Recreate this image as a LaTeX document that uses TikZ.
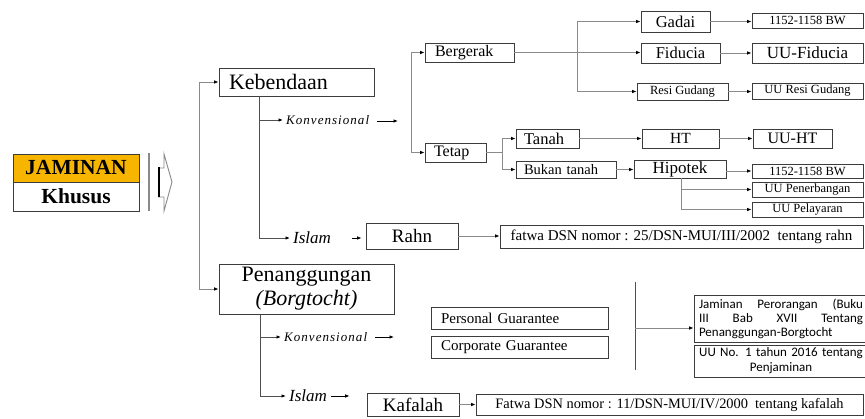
\documentclass[tikz,border=0pt]{standalone}
\usepackage{fontspec}
\setmainfont{Liberation Serif}
\newfontfamily\sansjp{Carlito}
\newfontfamily\lsfont[LetterSpace=8]{Liberation Serif}
\usetikzlibrary{arrows.meta}
\newcommand\fsz[1]{\fontsize{#1}{#1}\selectfont}
\definecolor{jamc}{HTML}{F7B500}
\definecolor{bordc}{HTML}{3C3C3C}
\definecolor{connc}{HTML}{8A8A8A}
\definecolor{dconn}{HTML}{505050}
\begin{document}
\begin{tikzpicture}[x=1pt,y=-1pt,
  box/.style={draw=bordc, line width=0.9pt, inner sep=0pt, align=center},
  conn/.style={draw=connc, line width=0.8pt},
  dk/.style={draw=dconn, line width=0.9pt},
  arr/.style={conn, -{Latex[length=4.5pt,width=3.6pt,color=black]}},
  darr/.style={dk, -{Latex[length=4.5pt,width=3.6pt,color=black]}},
  lab/.style={inner sep=3pt, anchor=west}]
\useasboundingbox (0,0) rectangle (865,419);
\fill[white] (0,0) rectangle (865,419);

% left block
\node[box, fill=jamc, minimum width=126pt, minimum height=28pt, font=\bfseries\fsz{21.5}] (jam) at (76,168) {JAMINAN};
\node[box, minimum width=126pt, minimum height=29pt, font=\bfseries\fsz{21.5}] (khu) at (76,196.5) {Khusus};

% bracket arrow symbol
\draw[connc, line width=1.2pt] (149,153) -- (149,211);
\draw[connc, line width=0.9pt] (158,168) -- (164,168) -- (164,154) -- (172,182) -- (164,211) -- (164,197) -- (158,197);
\draw[black, line width=1.8pt] (159,167.5) -- (159,197.5);

% level 1
\node[box, minimum width=155pt, minimum height=28pt, text width=135pt, align=left, font=\fsz{22}] (keb) at (296.5,82) {Kebendaan};
\node[box, minimum width=175pt, minimum height=50pt, align=center, font=\fontsize{22}{24}\selectfont] (pen) at (306.5,289) {Penanggungan\\\textit{(Borgtocht)}};

\coordinate (mv) at (199,289);
\draw[arr] (mv) |- (keb.west);
\draw[arr] (mv) -- (mv -| pen.west);

% Kebendaan branch
\node[lab, font=\lsfont\itshape\fsz{13}] (konv1) at (283,120) {Konvensional};
\node[lab, font=\itshape\fsz{17}] (isl1) at (290,238) {Islam};
\coordinate (kv) at (259,96);
\draw[darr] (kv) |- (konv1.west);
\draw[darr] (kv) |- (isl1.west);
\coordinate (k1e) at (398,121);
\draw[arr, draw=black, shorten <=5pt] (konv1.east |- k1e) -- (k1e);

% Bergerak / Tetap
\node[box, minimum width=89pt, minimum height=19pt, text width=69pt, align=left, font=\fsz{16}] (berg) at (469.5,52.5) {Bergerak};
\node[box, minimum width=61pt, minimum height=19pt, text width=43pt, align=left, font=\fsz{16}] (tet) at (455.5,152.5) {Tetap};
\coordinate (bv) at (411,52.5);
\draw[arr] (bv) -- (berg.west);
\draw[arr] (bv) |- (tet.west);

% Bergerak children
\node[box, minimum width=69pt, minimum height=21pt, font=\fsz{16.5}] (gad) at (675.5,21.5) {Gadai};
\node[box, minimum width=79pt, minimum height=20pt, font=\fsz{16.5}] (fid) at (680.5,53) {Fiducia};
\node[box, minimum width=91pt, minimum height=17pt, font=\fsz{12.5}] (resi) at (682.5,91.5) {Resi Gudang};
\coordinate (gv) at (577,52.5);
\draw[arr] (berg.east) -- (berg.east -| fid.west);
\draw[arr] (gv) |- (gad.west);
\draw[arr] (gv) |- (resi.west);

\node[box, minimum width=111pt, minimum height=15pt, font=\fsz{12.5}] (bw1) at (807.5,20.5) {1152-1158 BW};
\node[box, minimum width=111pt, minimum height=20pt, font=\fsz{17}] (uufid) at (807.5,53) {UU-Fiducia};
\node[box, minimum width=111pt, minimum height=16pt, font=\fsz{12.5}] (uuresi) at (807.5,91) {UU Resi Gudang};
\draw[arr] (gad.east) -- (gad.east -| bw1.west);
\draw[arr] (fid.east) -- (fid.east -| uufid.west);
\draw[arr] (resi.east) -- (resi.east -| uuresi.west);

% Tetap children
\node[box, minimum width=63pt, minimum height=19pt, text width=47pt, align=left, font=\fsz{16.5}] (tan) at (547.5,138.5) {Tanah};
\node[box, minimum width=100pt, minimum height=17pt, text width=84pt, align=left, font=\fsz{14.5}] (buk) at (566,169.5) {Bukan tanah};
\coordinate (tv) at (502,152.5);
\draw[conn] (tet.east) -- (tv);
\draw[arr] (tv) |- (tan.west);
\draw[arr] (tv) |- (buk.west);

\node[box, minimum width=77pt, minimum height=19pt, font=\fsz{15.5}] (ht) at (680.5,138.5) {HT};
\node[box, minimum width=79pt, minimum height=19pt, font=\fsz{16}] (uuht) at (792.5,138.5) {UU-HT};
\draw[arr] (tan.east) -- (ht.west);
\draw[arr] (ht.east) -- (uuht.west);

\node[box, minimum width=92pt, minimum height=18pt, font=\fsz{17}] (hip) at (680,169) {Hipotek};
\draw[arr] (buk.east) -- (buk.east -| hip.west);
\node[box, minimum width=111pt, minimum height=14pt, font=\fsz{12.5}] (bw2) at (807.5,171) {1152-1158 BW};
\node[box, minimum width=111pt, minimum height=15pt, font=\fsz{12.5}] (uupen) at (807.5,189.5) {UU Penerbangan};
\node[box, minimum width=111pt, minimum height=15pt, font=\fsz{12.5}] (uupel) at (807.5,209.5) {UU Pelayaran};
\draw[arr] (hip.east |- bw2) -- (bw2.west);
\coordinate (hv) at (681,178);
\draw[arr] (hv) |- (uupen.west);
\draw[arr] (hv) |- (uupel.west);

% Rahn
\node[box, minimum width=92pt, minimum height=26pt, font=\fsz{19}] (rahn) at (412,236) {Rahn};
\node[box, minimum width=363pt, minimum height=23pt, font=\fsz{15}] (fat1) at (681.5,236.5) {fatwa DSN nomor : 25/DSN-MUI/III/2002\ \ tentang rahn};
\draw[arr, draw=black, shorten <=18pt, shorten >=4pt] (isl1.east) -- (isl1.east -| rahn.west);
\draw[arr] (rahn.east) -- (rahn.east -| fat1.west);

% Penanggungan branch
\node[lab, font=\lsfont\itshape\fsz{13}] (konv2) at (281,337) {Konvensional};
\node[lab, font=\itshape\fsz{17}] (isl2) at (286,396) {Islam};
\coordinate (pv) at (260,315);
\draw[darr] (pv) |- (konv2.west);
\draw[darr] (pv) |- (isl2.west);
\coordinate (k2e) at (394,337);
\draw[arr, draw=black, shorten <=5pt] (konv2.east |- k2e) -- (k2e);

\node[box, minimum width=177pt, minimum height=22pt, font=\fsz{15}, text width=157pt, align=left] (pers) at (519.5,318) {Personal Guarantee};
\node[box, minimum width=177pt, minimum height=22pt, font=\fsz{15}, text width=157pt, align=left] (corp) at (519.5,347) {Corporate Guarantee};

\coordinate (rv1) at (635,282);
\coordinate (rv2) at (635,370);
\draw[dk] (rv1) -- (rv2);
\node[box, minimum width=174pt, minimum height=47pt, text width=164pt, align=left, font=\sansjp\fontsize{13}{14}\selectfont] (jp) at (781,318.5)
  {\makebox[164pt][l]{Jaminan\hfill Perorangan\hfill (Buku}\\\makebox[164pt][l]{III\hfill Bab\hfill XVII\hfill Tentang}\\Penanggungan-Borgtocht};
\node[box, minimum width=174pt, minimum height=32pt, text width=164pt, align=left, font=\sansjp\fontsize{13}{15}\selectfont] (uuno) at (781,361)
  {\makebox[164pt][c]{UU No. 1 tahun 2016 tentang}\\\makebox[164pt][c]{Penjaminan}};
\coordinate (rvm) at (635,328);
\draw[arr] (rvm) -- (rvm -| jp.west);

% Kafalah
\node[box, minimum width=92pt, minimum height=23pt, font=\fsz{19}] (kaf) at (413,404.5) {Kafalah};
\node[box, minimum width=387pt, minimum height=21pt, font=\fsz{14.4}] (fat2) at (669.5,404.5) {Fatwa DSN nomor : 11/DSN-MUI/IV/2000\ \ tentang kafalah};
\draw[arr, draw=black, shorten <=1pt, shorten >=17pt] (isl2.east) -- (isl2.east -| kaf.west);
\draw[arr] (kaf.east) -- (kaf.east -| fat2.west);
\end{tikzpicture}
\end{document}
